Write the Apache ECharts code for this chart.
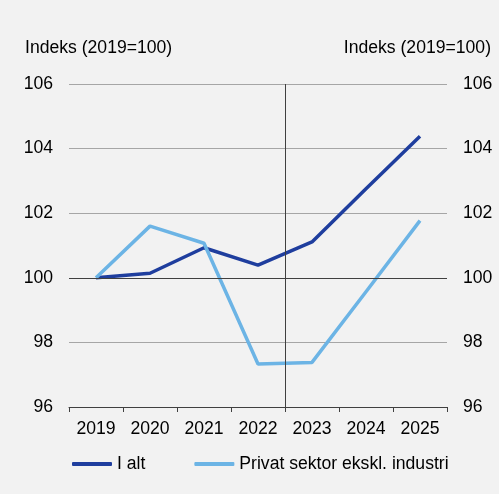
<!DOCTYPE html>
<html><head><meta charset="utf-8">
<script src="https://cdn.jsdelivr.net/npm/echarts@6/dist/echarts.min.js"></script>
<style>html,body{margin:0;padding:0;background:#F2F2F2}#c{width:499px;height:494px}</style>
</head><body><div id="c"></div>
<script>
const categories = ['2019','2020','2021','2022','2023','2024','2025'];
const iAlt = [100, 100.14, 100.93, 100.39, 101.11, 102.76, 104.38];
const privat = [100, 101.6, 101.07, 97.33, 97.38, 99.57, 101.77];
const seriesNames = ['I alt', 'Privat sektor ekskl. industri'];
const axisName = 'Indeks (2019=100)';
const yMin = 96, yMax = 106, yStep = 2;
const dividerAt = 3.5; // between 2022 and 2023

const font = 'Liberation Sans, Arial, sans-serif';
const txt = {color:'#000', fontFamily:font, fontSize:17.6, fontWeight:'normal'};
const chart = echarts.init(document.getElementById('c'), null, {renderer:'canvas'});
const yBase = {
  type:'value', min:yMin, max:yMax, interval:yStep,
  axisLine:{show:false}, axisTick:{show:false},
  axisLabel:Object.assign({margin:16}, txt)
};
chart.setOption({
  backgroundColor:'#F2F2F2',
  animation:false,
  title:[
    {text:axisName, left:25, top:39, padding:0, textStyle:txt},
    {text:axisName, right:8, top:39, padding:0, textStyle:txt}
  ],
  grid:{left:69, right:52, top:84, bottom:87, containLabel:false},
  legend:{
    left:67, top:450, itemWidth:40, itemHeight:4, itemGap:49, itemTextGap:4, textStyle:txt,
    icon:'roundRect', data:seriesNames
  },
  xAxis:[{
    type:'category', data:categories, boundaryGap:true,
    axisLine:{lineStyle:{color:'#404040', width:1}},
    axisTick:{show:true, length:5, lineStyle:{color:'#404040'}},
    axisLabel:Object.assign({margin:13}, txt),
    splitLine:{show:false}
  },{
    type:'value', min:-0.5, max:6.5, show:false
  }],
  yAxis:[
    Object.assign({}, yBase, {
      position:'left',
      splitLine:{show:true, lineStyle:{color:'#A6A6A6', width:1}}
    }),
    Object.assign({}, yBase, {
      position:'right',
      splitLine:{show:false}
    })
  ],
  series:[
    {name:seriesNames[0], type:'line', data:iAlt, showSymbol:false, symbol:'none',
     lineStyle:{color:'#1F3E9E', width:3.5}, itemStyle:{color:'#1F3E9E'},
     markLine:{silent:true, symbol:'none', label:{show:false},
       lineStyle:{color:'#404040', width:1, type:'solid'}, data:[{yAxis:100}]}},
    {name:seriesNames[1], type:'line', data:privat, showSymbol:false, symbol:'none',
     lineStyle:{color:'#6CB4E5', width:3.5}, itemStyle:{color:'#6CB4E5'}},
    {name:'divider', type:'line', xAxisIndex:1, data:[],
     markLine:{silent:true, symbol:'none', label:{show:false},
       lineStyle:{color:'#404040', width:1, type:'solid'}, data:[{xAxis:dividerAt}]}}
  ]
});
</script></body></html>
